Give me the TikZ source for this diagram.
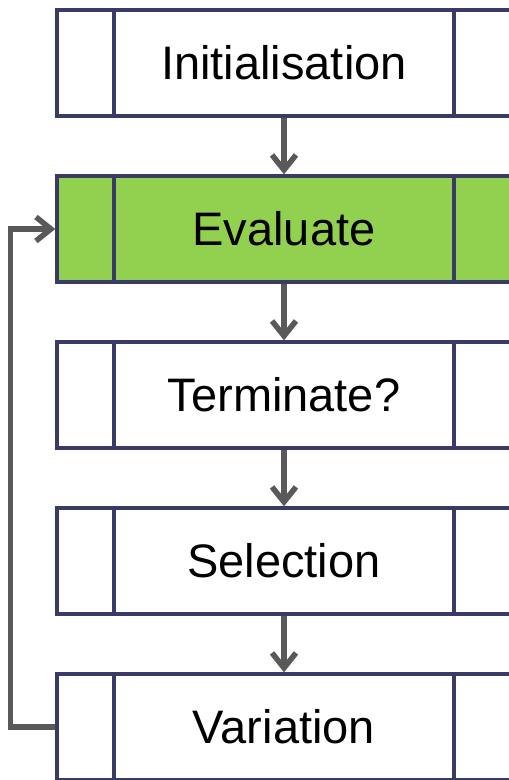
\documentclass[tikz,border=0pt]{standalone}
\usepackage{fontspec}
\setmainfont{Liberation Sans}
\usetikzlibrary{arrows.meta,positioning}

\definecolor{frame}{HTML}{3A3A66}
\definecolor{leaf}{HTML}{92D050}
\definecolor{lead}{HTML}{595959}

\begin{document}
\begin{tikzpicture}[x=1pt,y=-1pt,
  stage/.style={draw=frame,line width=3.3pt,fill=white,minimum width=454pt,
    minimum height=106pt,inner sep=0pt,font=\fontsize{47}{50}\selectfont},
  flow/.style={draw=lead,line width=5.5pt,-{Straight Barb[length=15pt,width=24pt]}}]
\useasboundingbox (0,0) rectangle (509,780);

\node[stage] (init) at (284,63)  {Initialisation};
\node[stage,fill=leaf] (eval) at (284,229) {Evaluate};
\node[stage] (term) at (284,395) {Terminate?};
\node[stage] (sel)  at (284,561) {Selection};
\node[stage] (var)  at (284,727) {Variation};

% side bars of each box
\foreach \n in {init,eval,term,sel,var} {
  \draw[frame,line width=3.3pt] ([xshift=58.6pt]\n.north west) -- ([xshift=58.6pt]\n.south west);
  \draw[frame,line width=3.3pt] ([xshift=-58.6pt]\n.north east) -- ([xshift=-58.6pt]\n.south east);
}

\draw[flow] (init) -- (eval);
\draw[flow] (eval) -- (term);
\draw[flow] (term) -- (sel);
\draw[flow] (sel) -- (var);
\draw[flow] (var.west) -- ++(-45,0) |- (eval.west);

\end{tikzpicture}
\end{document}
